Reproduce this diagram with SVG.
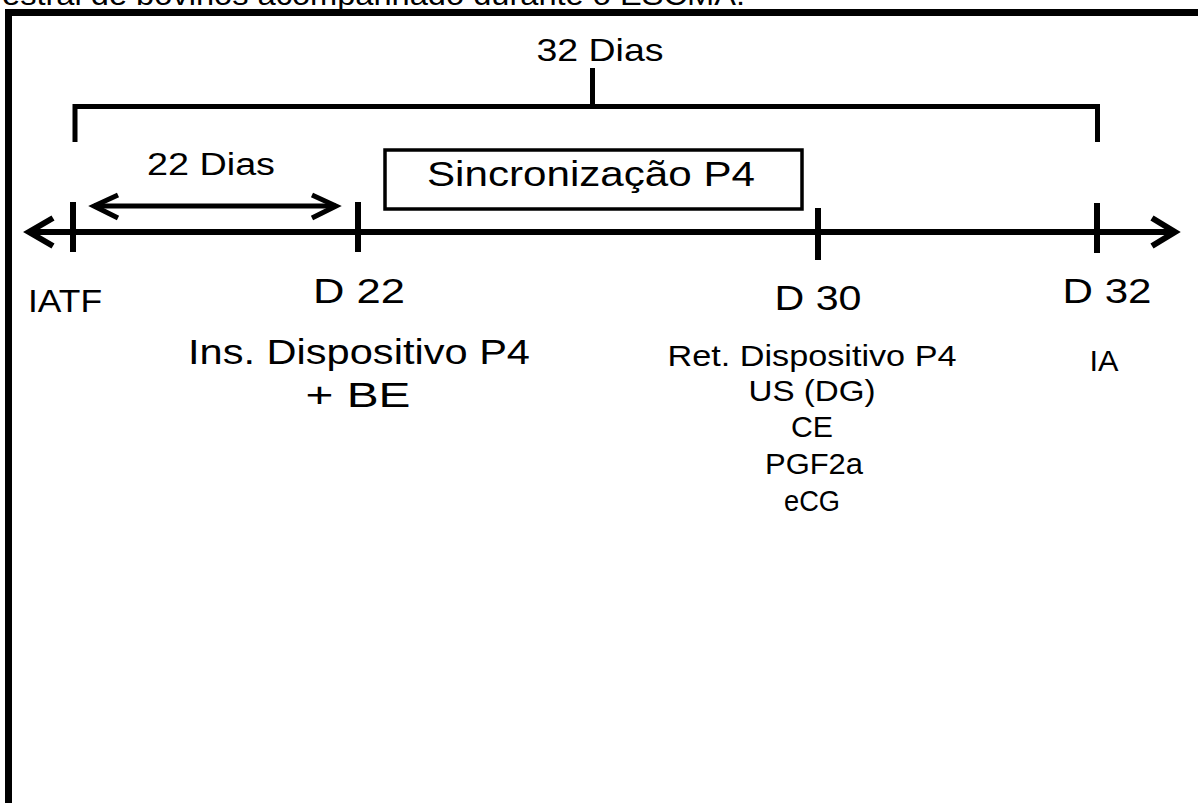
<svg xmlns="http://www.w3.org/2000/svg" width="1198" height="803" viewBox="0 0 1198 803">
<style>
text{font-family:"Liberation Sans",Arial,sans-serif;fill:#000;}
.big{font-size:35px;}
.med{font-size:29px;}
.ln{stroke:#000;fill:none;stroke-linecap:butt;}
</style>
<rect width="1198" height="803" fill="#fff"/>
<text x="2" y="5" style="font-size:29px" textLength="743" lengthAdjust="spacingAndGlyphs">estral de bovinos acompanhado durante o ESCMA.</text>
<path class="ln" d="M8.5,803 V12.5 H1198" stroke-width="7"/>
<g id="connectors">
<path id="bracket32" class="ln" stroke-width="5" d="M75,142 V106.5 H1097.5 V142 M592.5,106.5 V68"/>
<path id="timeline" class="ln" stroke-width="6" d="M29,232 H1175"/>
<path class="ln" stroke-width="6" stroke-linejoin="miter" d="M53,218 L29,232 L53,246"/>
<path class="ln" stroke-width="6" stroke-linejoin="miter" d="M1152,218 L1175,232 L1152,246"/>
<path class="ln" stroke-width="5" d="M94,206 H336"/>
<path class="ln" stroke-width="5" stroke-linejoin="miter" d="M118,195 L94,206 L118,218"/>
<path class="ln" stroke-width="5" stroke-linejoin="miter" d="M312,195 L336,206 L312,218"/>
</g>
<g id="ticks">
<path class="ln" stroke-width="6" d="M73,202 V252"/>
<path class="ln" stroke-width="6" d="M358,202 V252"/>
<path class="ln" stroke-width="6" d="M818,208 V260"/>
<path class="ln" stroke-width="6" d="M1097,203 V253"/>
</g>
<g id="label32">
<text x="600" y="61" style="font-size:32px" text-anchor="middle" textLength="127" lengthAdjust="spacingAndGlyphs">32 Dias</text>
</g>
<g id="label22">
<text x="211" y="175" style="font-size:31px" text-anchor="middle" textLength="128" lengthAdjust="spacingAndGlyphs">22 Dias</text>
</g>
<g id="sincronizacao">
<rect x="385" y="150" width="417" height="59" fill="none" stroke="#000" stroke-width="3.5"/>
<text x="591" y="186" style="font-size:35px" text-anchor="middle" textLength="328" lengthAdjust="spacingAndGlyphs">Sincronização P4</text>
</g>
<g id="iatf">
<text x="65" y="312" style="font-size:32px" text-anchor="middle" textLength="74" lengthAdjust="spacingAndGlyphs">IATF</text>
</g>
<g id="d22">
<text x="359" y="303" class="big" text-anchor="middle" textLength="92" lengthAdjust="spacingAndGlyphs">D 22</text>
<text x="359" y="364" class="big" text-anchor="middle" textLength="342" lengthAdjust="spacingAndGlyphs">Ins. Dispositivo P4</text>
<text x="358" y="407" class="big" text-anchor="middle" textLength="105" lengthAdjust="spacingAndGlyphs">+ BE</text>
</g>
<g id="d30">
<text x="818" y="310" class="big" text-anchor="middle" textLength="87" lengthAdjust="spacingAndGlyphs">D 30</text>
<text x="812" y="366" class="med" text-anchor="middle" textLength="289" lengthAdjust="spacingAndGlyphs">Ret. Dispositivo P4</text>
<text x="812" y="401" class="med" text-anchor="middle" textLength="127" lengthAdjust="spacingAndGlyphs">US (DG)</text>
<text x="812" y="437" class="med" text-anchor="middle" textLength="42" lengthAdjust="spacingAndGlyphs">CE</text>
<text x="814" y="474" class="med" text-anchor="middle" textLength="98" lengthAdjust="spacingAndGlyphs">PGF2a</text>
<text x="812" y="511" class="med" text-anchor="middle" textLength="56" lengthAdjust="spacingAndGlyphs">eCG</text>
</g>
<g id="d32">
<text x="1107" y="303" class="big" text-anchor="middle" textLength="89" lengthAdjust="spacingAndGlyphs">D 32</text>
<text x="1104" y="371" class="med" text-anchor="middle" textLength="29" lengthAdjust="spacingAndGlyphs">IA</text>
</g>
</svg>
